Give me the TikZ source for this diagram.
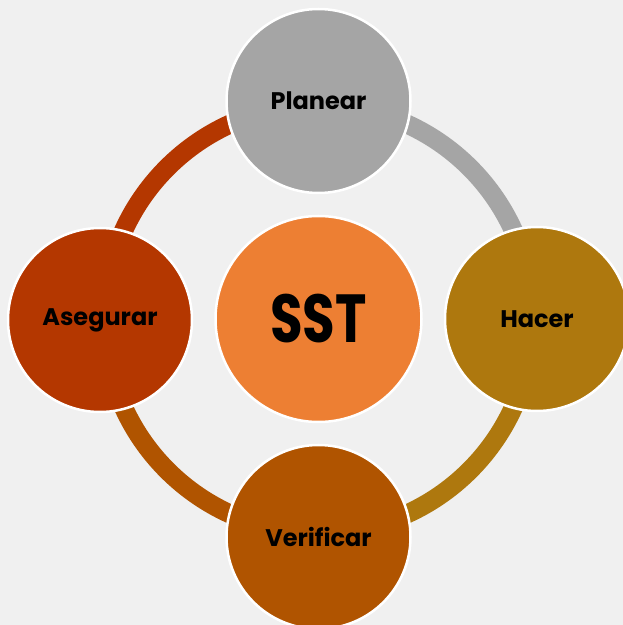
\documentclass[tikz,border=0pt]{standalone}
\usepackage{fontspec}
\setmainfont{Poppins}[BoldFont={* Bold}]
\begin{document}
\begin{tikzpicture}[x=1pt,y=1pt,
  sat/.style={circle,draw=white,line width=2.5pt,minimum size=184pt,inner sep=0pt,
    font=\fontsize{24}{26}\selectfont\bfseries,text=black},
  hub/.style={circle,draw=white,line width=2.5pt,minimum size=206pt,inner sep=0pt,
    fill=cOrange,text=black},
  ring/.style={line width=19pt}]
\definecolor{cBg}{HTML}{F0F0F0}
\definecolor{cGrey}{HTML}{A5A5A5}
\definecolor{cGold}{HTML}{AE780E}
\definecolor{cBrown}{HTML}{B05400}
\definecolor{cRed}{HTML}{B43700}
\definecolor{cOrange}{HTML}{ED7F33}
\useasboundingbox (0,0) rectangle (623,625);
\clip (0,0) rectangle (623,625);
\fill[cBg] (0,0) rectangle (623,625);
\node[hub] (sst) at (318.5,306) {\scalebox{0.78}[1]{\fontsize{68}{70}\selectfont\bfseries SST}};
% ring arcs
\draw[ring,cGrey]  (sst.center) ++(90:214)  arc[start angle=90, end angle=0,   radius=214];
\draw[ring,cGold]  (sst.center) ++(0:214)   arc[start angle=0,  end angle=-90, radius=214];
\draw[ring,cBrown] (sst.center) ++(270:214) arc[start angle=270,end angle=180, radius=214];
\draw[ring,cRed]   (sst.center) ++(180:214) arc[start angle=180,end angle=90,  radius=214];
% satellites
\node[sat,fill=cGrey]  (planear)   at (318.5,524) {Planear};
\node[sat,fill=cGold]  (hacer)     at (537,306)   {Hacer};
\node[sat,fill=cBrown] (verificar) at (318.5,88)  {Verificar};
\node[sat,fill=cRed]   (asegurar)  at (100,305)   {Asegurar};
\end{tikzpicture}
\end{document}
